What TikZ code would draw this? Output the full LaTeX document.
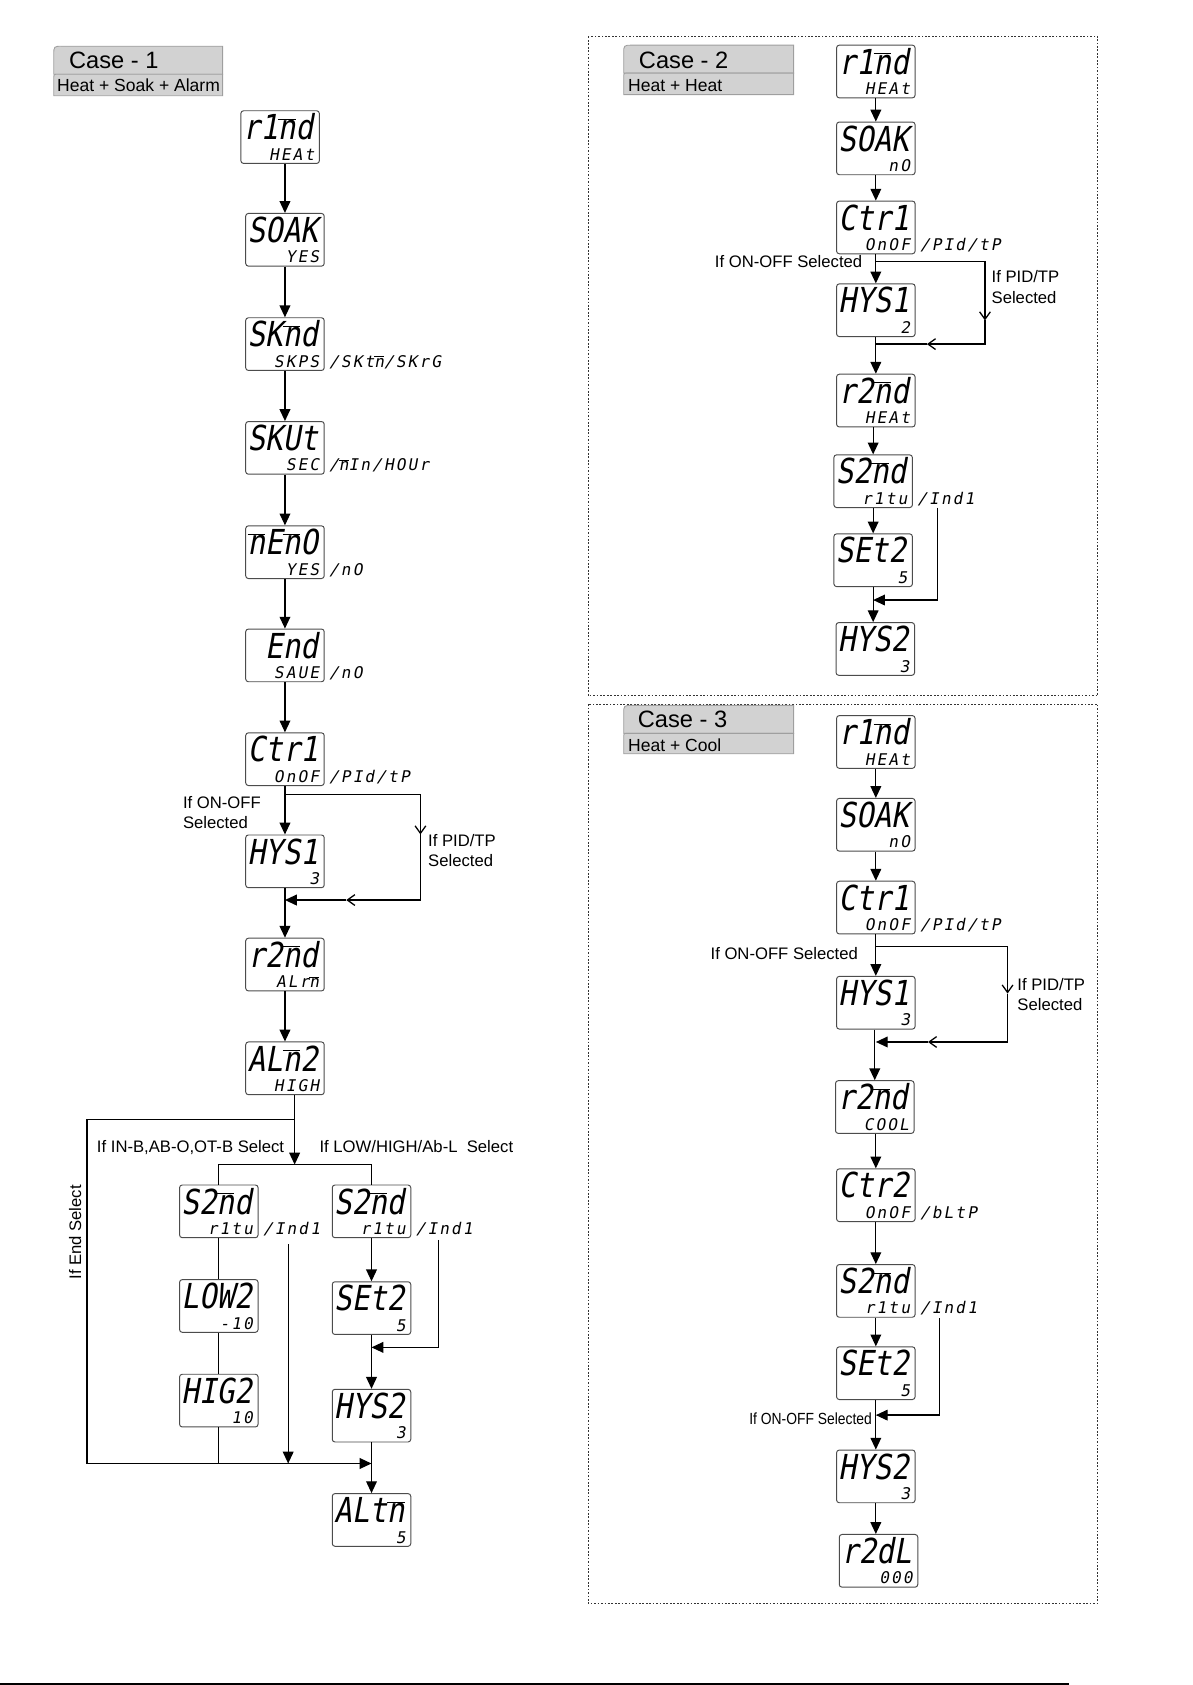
\documentclass[tikz,border=0pt]{standalone}
\usepackage{fontspec}
\setmainfont{Liberation Sans}
\newfontfamily\lcdbigfont[FakeSlant=0.18,FakeStretch=0.85]{DejaVu Sans Mono}
\newfontfamily\lcdsmallfont[FakeSlant=0.18,LetterSpace=13]{DejaVu Sans Mono}
\newfontfamily\condfont[FakeStretch=0.86]{Liberation Sans}
\usetikzlibrary{arrows.meta,calc}
\newcommand\lcdm{\ensuremath{\overline{\mbox{n}}}}
\newcommand\lcd[4]{%
  \node[lcdbox] (#1) at (#2) {};
  \node[lcdbig] (#1t) at ($(#1.north east)+(-6,27.5)$) {#3};
  \node[lcdsmall] (#1b) at ($(#1.south east)+(-5,-3.5)$) {#4};
}
\newcommand\lcdside[2]{\node[lcdsidetxt] (#1s) at ($(#1.south east)+(4,-3.5)$) {#2};}
\tikzset{
  lcdbox/.style={draw=black!70, line width=0.9pt, rounded corners=2.5pt, minimum width=73pt, minimum height=49pt, inner sep=0pt, fill=white},
  lcdbig/.style={anchor=base east, inner sep=0pt, font=\lcdbigfont\fontsize{32}{32}\selectfont},
  lcdsmall/.style={anchor=base east, inner sep=0pt, font=\lcdsmallfont\fontsize{15}{15}\selectfont},
  lcdsidetxt/.style={lcdsmall, anchor=base west},
  line/.style={line width=1.2pt},
  arr/.style={line, -{Triangle[length=11pt,width=10pt]}},
  oarr/.style={line, -{Straight Barb[length=7pt,width=10pt]}},
  lbl/.style={inner sep=0pt, font=\fontsize{15.5}{19}\selectfont, align=left},
  tab/.style={fill=gray!35, draw=gray!75, line width=0.8pt},
  dotbox/.style={draw=black!80, line width=0.9pt, dash pattern=on 1.6pt off 1.6pt},
}
\begin{document}
\begin{tikzpicture}[x=1pt, y=-1pt]
\useasboundingbox (0,0) rectangle (1109,1567);
% frames
\draw[dotbox] (547,34) rectangle (1021,647);
\draw[dotbox] (547,655) rectangle (1021,1491);
\draw[line width=2pt] (0,1566) -- (994,1566);
% tabs
\draw[tab] (50,69) -- (50,51) .. controls (50,43) .. (58,43) -- (207,43) -- (207,69) -- cycle;
\draw[tab] (50,89) -- (50,73) .. controls (50,69) .. (54,69) -- (207,69) -- (207,89) -- cycle;
\node[anchor=base west, inner sep=0pt, font=\fontsize{22}{24}\selectfont] (case1) at (64,64) {Case - 1};
\node[anchor=base west, inner sep=0pt, font=\fontsize{16.3}{18}\selectfont] (case1s) at (53,85) {Heat + Soak + Alarm};
\draw[tab] (580,68) -- (580,50) .. controls (580,42) .. (588,42) -- (738,42) -- (738,68) -- cycle;
\draw[tab] (580,88) -- (580,72) .. controls (580,68) .. (584,68) -- (738,68) -- (738,88) -- cycle;
\node[anchor=base west, inner sep=0pt, font=\fontsize{22}{24}\selectfont] (case2) at (594,64) {Case - 2};
\node[anchor=base west, inner sep=0pt, font=\fontsize{16.3}{18}\selectfont] (case2s) at (584,85.5) {Heat + Heat};
\draw[tab] (580,682) -- (580,664) .. controls (580,656) .. (588,656) -- (738,656) -- (738,682) -- cycle;
\draw[tab] (580,701) -- (580,686) .. controls (580,682) .. (584,682) -- (738,682) -- (738,701) -- cycle;
\node[anchor=base west, inner sep=0pt, font=\fontsize{22}{24}\selectfont] (case3) at (593,677) {Case - 3};
\node[anchor=base west, inner sep=0pt, font=\fontsize{16.3}{18}\selectfont] (case3s) at (584,698.5) {Heat + Cool};

% ---------- Case 1 ----------
\lcd{n1a}{260.5,127.5}{r1\lcdm d}{HEAt}
\lcd{n1b}{265,223}{SOAK}{YES}
\lcd{n1c}{265,320}{SK\lcdm d}{SKPS}
\lcdside{n1c}{/SKt\lcdm/SKrG}
\lcd{n1d}{265,416.5}{SKUt}{SEC}
\lcdside{n1d}{/\lcdm In/HOUr}
\lcd{n1e}{265,513.5}{\lcdm E\lcdm O}{YES}
\lcdside{n1e}{/nO}
\lcd{n1f}{265,609.5}{End}{SAUE}
\lcdside{n1f}{/nO}
\lcd{n1g}{265,706}{Ctr1}{OnOF}
\lcdside{n1g}{/PId/tP}
\lcd{n1h}{265,801}{HYS1}{3}
\lcd{n1i}{265,897}{r2\lcdm d}{ALr\lcdm}
\lcd{n1j}{265,993.5}{AL\lcdm 2}{HIGH}
\lcd{n1k}{203.5,1126.5}{S2\lcdm d}{r1tu}
\lcdside{n1k}{/Ind1}
\lcd{n1l}{203.5,1214.5}{LOW2}{-10}
\lcd{n1m}{203.5,1302.5}{HIG2}{10}
\lcd{n1n}{345.5,1126.5}{S2\lcdm d}{r1tu}
\lcdside{n1n}{/Ind1}
\lcd{n1o}{345.5,1216.5}{SEt2}{5}
\lcd{n1p}{345.5,1316.5}{HYS2}{3}
\lcd{n1q}{345.5,1413.5}{ALt\lcdm}{5}

\draw[arr] (n1a.south -| n1b.north) -- (n1b.north);
\draw[arr] (n1b.south) -- (n1c.north);
\draw[arr] (n1c.south) -- (n1d.north);
\draw[arr] (n1d.south) -- (n1e.north);
\draw[arr] (n1e.south) -- (n1f.north);
\draw[arr] (n1f.south) -- (n1g.north);
\draw[arr] (n1g.south) -- (n1h.north);
\draw[arr] (n1h.south) -- (n1i.north);
\draw[arr] (n1i.south) -- (n1j.north);
\coordinate (c1p1) at ($(n1g.south)+(0,8)$);
\coordinate (c1pv) at (391,776);
\coordinate (c1pm) at (322,837);
\draw[oarr] (c1p1) -| (c1pv);
\draw[oarr] (c1pv) |- (c1pm);
\draw[arr] (c1pm) -- (n1h.south |- c1pm);
\node[lbl, anchor=north west] (l1a) at (170,740.5) {If ON-OFF\\Selected};
\node[lbl, anchor=north west] (l1b) at (398,775.5) {If PID/TP\\Selected};

\coordinate (c1q0) at ($(n1j.south)+(9,0)$);
\coordinate (c1q1) at (274,1041);
\coordinate (c1q2) at (81,1041);
\coordinate (c1q3) at (81,1361);
\coordinate (c1q4) at (274,1083);
\draw[line] (c1q0) -- (c1q1) -- (c1q2) -- (c1q3);
\draw[arr] (c1q1) -- (c1q4);
\draw[line] (n1k.north) -- (n1k.north |- c1q4) -- (n1n.north |- c1q4) -- (n1n.north);
\draw[line] (n1k.south) -- (n1l.north);
\draw[line] (n1l.south) -- (n1m.north);
\draw[line] (n1m.south) -- (n1m.south |- c1q3);
\coordinate (c1s1) at (268,1157);
\draw[arr] (c1s1) -- (c1s1 |- c1q3);
\draw[arr] (n1n.south) -- (n1o.north);
\coordinate (c1r1) at (408,1153);
\coordinate (c1r2) at (408,1253);
\draw[arr] (c1r1) -- (c1r2) -- (n1o.south |- c1r2);
\draw[arr] (n1o.south) -- (n1p.north);
\draw[arr] (n1p.south) -- (n1q.north);
\draw[arr] (c1q3) -- (n1q.north |- c1q3);
\node[lbl, anchor=base west] (l1c) at (90,1071.5) {If IN-B,AB-O,OT-B Select};
\node[lbl, anchor=base west] (l1d) at (297,1071.5) {If LOW/HIGH/Ab-L\ \ Select};
\node[lbl, rotate=90] (l1e) at (70,1146) {If End Select};

% ---------- Case 2 ----------
\lcd{n2a}{814.5,66.5}{r1\lcdm d}{HEAt}
\lcd{n2b}{814.5,138}{SOAK}{nO}
\lcd{n2c}{814.5,211.5}{Ctr1}{OnOF}
\lcdside{n2c}{/PId/tP}
\lcd{n2d}{814.5,288.5}{HYS1}{2}
\lcd{n2e}{814.5,372.5}{r2\lcdm d}{HEAt}
\lcd{n2f}{812,447.5}{S2\lcdm d}{r1tu}
\lcdside{n2f}{/Ind1}
\lcd{n2g}{812,521}{SEt2}{5}
\lcd{n2h}{814,603.5}{HYS2}{3}
\draw[arr] (n2a.south) -- (n2b.north);
\draw[arr] (n2b.south) -- (n2c.north);
\draw[arr] (n2c.south) -- (n2d.north);
\draw[arr] (n2d.south) -- (n2e.north);
\draw[arr] (n2e.south -| n2f.north) -- (n2f.north);
\draw[arr] (n2f.south) -- (n2g.north);
\draw[arr] (n2g.south) -- (n2g.south |- n2h.north);
\coordinate (c2p1) at ($(n2c.south)+(0,6.5)$);
\coordinate (c2pv) at (916,298);
\coordinate (c2pm) at (862,320);
\draw[oarr] (c2p1) -| (c2pv);
\draw[oarr] (c2pv) |- (c2pm);
\draw[line] (c2pm) -- (n2d.south |- c2pm);
\coordinate (c2s1) at (872,472);
\coordinate (c2s2) at (872,558);
\draw[arr] (c2s1) -- (c2s2) -- (n2g.south |- c2s2);
\node[lbl, anchor=base east] (l2a) at (802,249) {If ON-OFF Selected};
\node[lbl, anchor=north west] (l2b) at (922,251.5) {If PID/TP\\Selected};

% ---------- Case 3 ----------
\lcd{n3a}{814.5,690}{r1\lcdm d}{HEAt}
\lcd{n3b}{814.5,767}{SOAK}{nO}
\lcd{n3c}{814.5,844}{Ctr1}{OnOF}
\lcdside{n3c}{/PId/tP}
\lcd{n3d}{814.5,932.5}{HYS1}{3}
\lcd{n3e}{813.5,1029.5}{r2\lcdm d}{COOL}
\lcd{n3f}{814.5,1111.5}{Ctr2}{OnOF}
\lcdside{n3f}{/bLtP}
\lcd{n3g}{814.5,1200.5}{S2\lcdm d}{r1tu}
\lcdside{n3g}{/Ind1}
\lcd{n3h}{814.5,1277}{SEt2}{5}
\lcd{n3i}{814.5,1373}{HYS2}{3}
\lcd{n3j}{817,1451.5}{r2dL}{000}
\draw[arr] (n3a.south) -- (n3b.north);
\draw[arr] (n3b.south) -- (n3c.north);
\draw[arr] (n3c.south) -- (n3d.north);
\draw[arr] (n3d.south -| n3e.north) -- (n3e.north);
\draw[arr] (n3e.south -| n3f.north) -- (n3f.north);
\draw[arr] (n3f.south) -- (n3g.north);
\draw[arr] (n3g.south) -- (n3h.north);
\draw[arr] (n3h.south) -- (n3i.north);
\draw[arr] (n3i.south) -- (n3i.south |- n3j.north);
\coordinate (c3p1) at ($(n3c.south)+(0,11)$);
\coordinate (c3pv) at (937,924);
\coordinate (c3pm) at (863,969);
\draw[oarr] (c3p1) -| (c3pv);
\draw[oarr] (c3pv) |- (c3pm);
\draw[arr] (c3pm) -- (n3d.south |- c3pm);
\coordinate (c3s1) at (874,1226);
\coordinate (c3s2) at (874,1316);
\draw[arr] (c3s1) -- (c3s2) -- (n3h.south |- c3s2);
\node[lbl, anchor=base east] (l3a) at (798,892.5) {If ON-OFF Selected};
\node[lbl, anchor=north west] (l3b) at (946,909.5) {If PID/TP\\Selected};
\node[lbl, anchor=base east, font=\condfont\fontsize{15}{18}\selectfont] (l3c) at (811,1324.5) {If ON-OFF Selected};
\end{tikzpicture}
\end{document}
